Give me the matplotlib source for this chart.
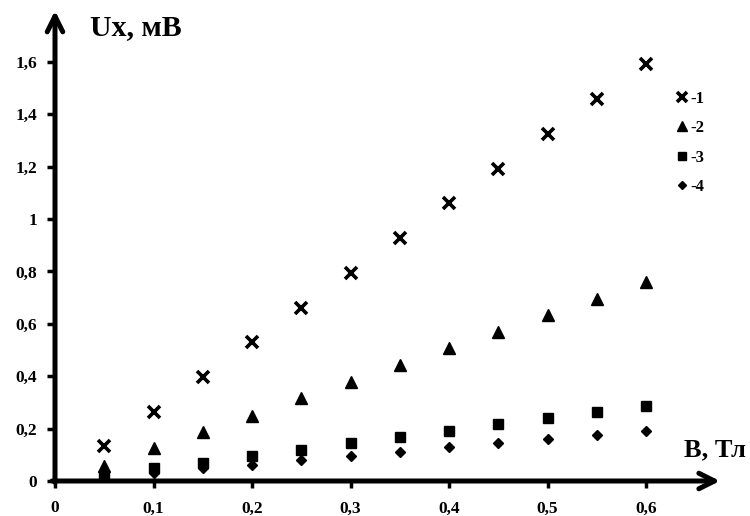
import matplotlib.pyplot as plt

# Magnetic field B, T and Hall voltage Ux, mV for four samples
B = [0.05, 0.10, 0.15, 0.20, 0.25, 0.30, 0.35, 0.40, 0.45, 0.50, 0.55, 0.60]
U1 = [0.134, 0.263, 0.397, 0.530, 0.660, 0.794, 0.928, 1.061, 1.190, 1.324, 1.458, 1.592]
U2 = [0.057, 0.126, 0.187, 0.248, 0.317, 0.378, 0.443, 0.508, 0.569, 0.634, 0.695, 0.760]
U3 = [0.023, 0.050, 0.070, 0.095, 0.118, 0.145, 0.168, 0.191, 0.218, 0.240, 0.264, 0.286]
U4 = [0.020, 0.030, 0.050, 0.060, 0.080, 0.095, 0.110, 0.130, 0.145, 0.162, 0.175, 0.190]

xticks = [0, 0.1, 0.2, 0.3, 0.4, 0.5, 0.6]
xlabels = ['0', '0,1', '0,2', '0,3', '0,4', '0,5', '0,6']
yticks = [0, 0.2, 0.4, 0.6, 0.8, 1.0, 1.2, 1.4, 1.6]
ylabels = ['0', '0,2', '0,4', '0,6', '0,8', '1', '1,2', '1,4', '1,6']

plt.rcParams['font.family'] = ['Liberation Serif', 'DejaVu Serif']
plt.rcParams['font.weight'] = 'bold'

W, H = 750, 516
fig = plt.figure(figsize=(W / 100, H / 100), dpi=100)
ax = fig.add_axes([55 / W, (H - 481) / H, (720 - 55) / W, (481 - 12) / H])
ax.set_xlim(0, 0.675)
ax.set_ylim(0, 1.79)

ax.plot(B, U1, 'x', color='black', ms=9, mew=2.6, label='-1', clip_on=False)
ax.plot(B, U2, '^', color='black', ms=8.5, label='-2', clip_on=False)
ax.plot(B, U3, 's', color='black', ms=7, label='-3', clip_on=False)
ax.plot(B, U4, 'D', color='black', ms=5.2, label='-4', clip_on=False)

for s in ax.spines.values():
    s.set_visible(False)

# axes drawn as arrows
arr = dict(arrowstyle='->', lw=3.6, color='black', mutation_scale=28,
           shrinkA=0, shrinkB=0)
ax.annotate('', xy=(0.675, 0), xytext=(-0.003, 0), arrowprops=arr,
            annotation_clip=False)
ax.annotate('', xy=(0, 1.795), xytext=(0, -0.005), arrowprops=arr,
            annotation_clip=False)

ax.set_xticks(xticks)
ax.set_xticklabels(xlabels)
ax.set_yticks(yticks)
ax.set_yticklabels(ylabels)
ax.tick_params(axis='x', direction='out', length=5, width=2.5, pad=9, labelsize=12.5)
ax.tick_params(axis='y', direction='out', length=6, width=2.5, pad=7, labelsize=12.5)

fig.text(90 / W, 1 - 28 / H, 'Ux, мВ', fontsize=21.5, fontweight='bold',
         ha='left', va='center')
fig.text(746 / W, 1 - 450 / H, 'B, Тл', fontsize=19, fontweight='bold',
         ha='right', va='center')

fig.legend(loc='upper left', bbox_to_anchor=(675 / W, 1 - 91 / H),
           frameon=False, numpoints=1, handlelength=0.8, handletextpad=0.15,
           labelspacing=0.8, borderpad=0, borderaxespad=0, markerscale=0.8,
           prop={'size': 12, 'weight': 'bold'})

fig.savefig('out.png', dpi=100)
